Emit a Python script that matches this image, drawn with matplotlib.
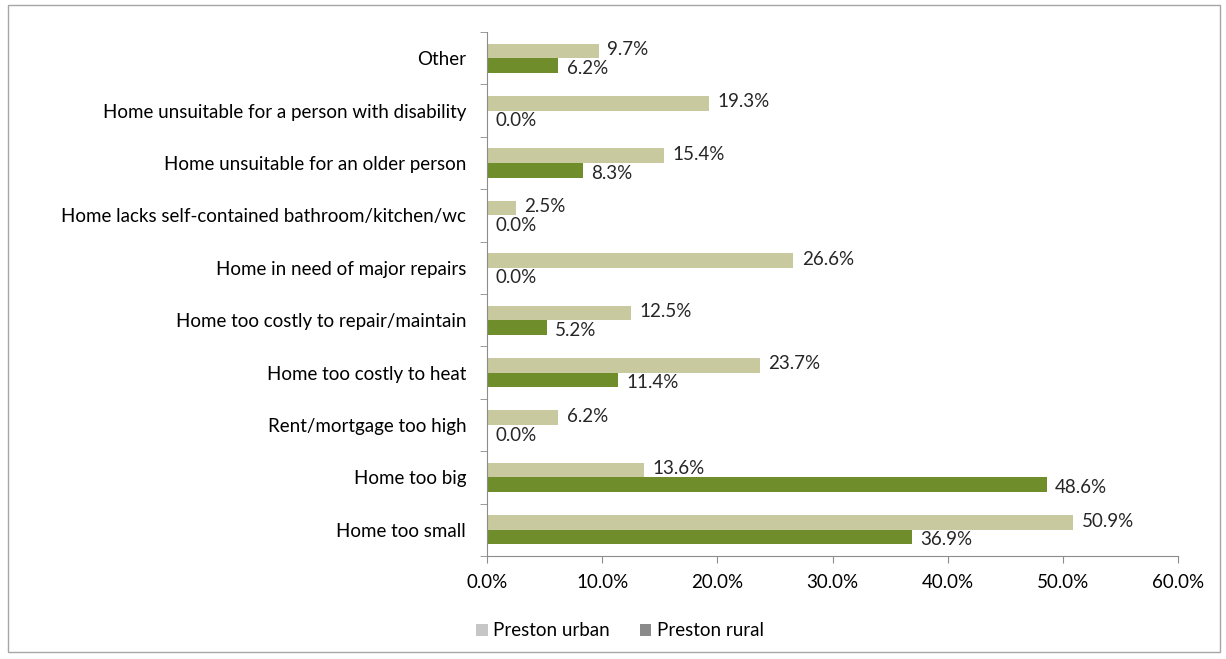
#!/usr/bin/env python3
# coding: utf-8
import matplotlib
matplotlib.use("Agg")
import matplotlib.pyplot as plt
from matplotlib.patches import Rectangle, Patch

FONT_FAMILY = ["Lato", "DejaVu Sans"]
FONT_SIZE = 13.5

# bottom to top, as drawn on the y axis
categories = [
    "Home too small",
    "Home too big",
    "Rent/mortgage too high",
    "Home too costly to heat",
    "Home too costly to repair/maintain",
    "Home in need of major repairs",
    "Home lacks self-contained bathroom/kitchen/wc",
    "Home unsuitable for an older person",
    "Home unsuitable for a person with disability",
    "Other",
]
urban = [50.9, 13.6, 6.2, 23.7, 12.5, 26.6, 2.5, 15.4, 19.3, 9.7]
rural = [36.9, 48.6, 0.0, 11.4, 5.2, 0.0, 0.0, 8.3, 0.0, 6.2]
xticks = [0, 10, 20, 30, 40, 50, 60]

URBAN_COLOR = "#c9c99f"
RURAL_COLOR = "#6f8e2b"
AXIS_COLOR = "#8c8c8c"


def main() -> None:
    plt.rcParams["font.family"] = FONT_FAMILY
    plt.rcParams["font.size"] = FONT_SIZE

    fig = plt.figure(figsize=(12.26, 6.59), dpi=100)
    fig.patches.append(
        Rectangle((8 / 1226, 7 / 659), 1212 / 1226, 647 / 659,
                  transform=fig.transFigure, fill=False,
                  edgecolor="#a6a6a6", linewidth=1.0)
    )
    ax = fig.add_axes([487 / 1226, 103 / 659, 691 / 1226, 524 / 659])

    ypos = list(range(len(categories)))
    h = 0.28
    ax.barh([y + h / 2 for y in ypos], urban, height=h, color=URBAN_COLOR)
    ax.barh([y - h / 2 for y in ypos], rural, height=h, color=RURAL_COLOR)

    for y, v in zip(ypos, urban):
        ax.annotate(f"{v:.1f}%", (v, y + h / 2), xytext=(6, 1),
                    textcoords="offset points", va="center", ha="left",
                    color="#262626")
    for y, v in zip(ypos, rural):
        ax.annotate(f"{v:.1f}%", (v, y - h / 2), xytext=(6, -2),
                    textcoords="offset points", va="center", ha="left",
                    color="#262626")

    ax.set_xlim(0, 60)
    ax.set_ylim(-0.5, len(categories) - 0.5)
    ax.set_xticks(xticks)
    ax.set_xticklabels([f"{t:.1f}%" for t in xticks])
    ax.set_yticks(ypos)
    ax.set_yticklabels(categories)
    ax.set_yticks([y + 0.5 for y in range(-1, len(categories))], minor=True)
    ax.tick_params(axis="y", which="major", length=0, pad=15)
    ax.tick_params(axis="y", which="minor", length=5, color=AXIS_COLOR)
    ax.tick_params(axis="x", length=5, color=AXIS_COLOR, pad=8)

    for side in ("top", "right"):
        ax.spines[side].set_visible(False)
    for side in ("left", "bottom"):
        ax.spines[side].set_color(AXIS_COLOR)

    handles = [
        Patch(facecolor="#c6c6c6", edgecolor="none", label="Preston urban"),
        Patch(facecolor="#8a8a8a", edgecolor="none", label="Preston rural"),
    ]
    fig.legend(handles=handles, loc="center", bbox_to_anchor=(620 / 1226, 1 - 631 / 659),
               ncol=2, frameon=False, handlelength=0.6, handleheight=0.6,
               handletextpad=0.3, columnspacing=1.6)

    fig.savefig("out.png", dpi=100)


if __name__ == "__main__":
    main()
